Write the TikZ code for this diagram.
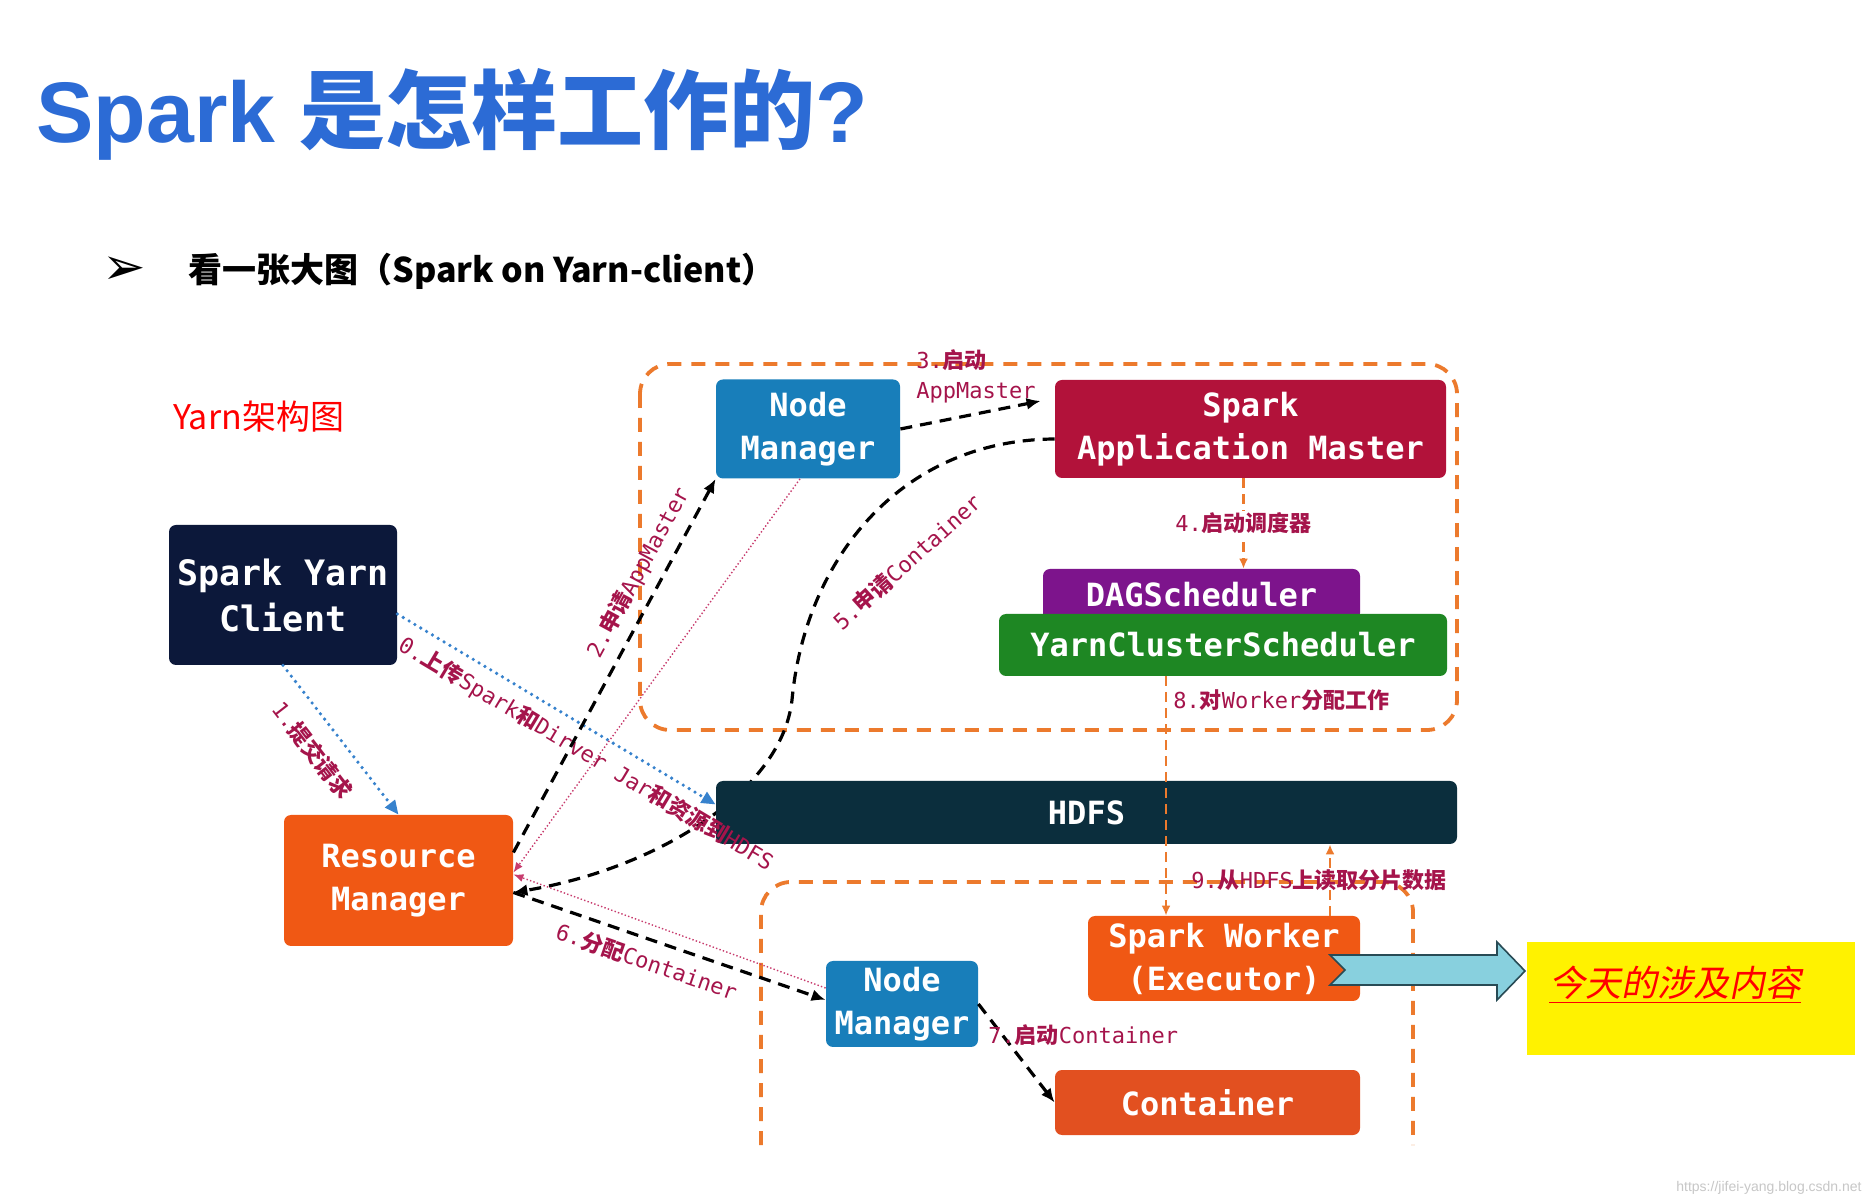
\documentclass[tikz,border=0pt]{standalone}
\usepackage{fontspec}
\usepackage{xcolor}
\usetikzlibrary{calc, arrows.meta, positioning}
\setmainfont{Liberation Sans}
\newfontfamily\cjkfont{Noto Sans CJK SC}
\newfontfamily\cjkslant{Noto Sans CJK SC}[FakeSlant=0.2]
\newfontfamily\monofont{DejaVu Sans Mono}
\newfontfamily\symfont{DejaVu Sans}
\newcommand{\zh}[1]{{\cjkfont\bfseries #1}}

\definecolor{titleblue}{RGB}{44,107,213}
\definecolor{nmblue}{RGB}{24,126,186}
\definecolor{amred}{RGB}{178,18,58}
\definecolor{dagpurple}{RGB}{125,20,140}
\definecolor{ycsgreen}{RGB}{30,135,35}
\definecolor{clientnavy}{RGB}{12,24,58}
\definecolor{rmorange}{RGB}{240,88,20}
\definecolor{contorange}{RGB}{226,80,32}
\definecolor{hdfsteal}{RGB}{11,46,61}
\definecolor{lblred}{RGB}{165,20,75}
\definecolor{hbpink}{RGB}{200,60,110}
\definecolor{dotblue}{RGB}{55,130,205}
\definecolor{frameorange}{RGB}{236,122,45}
\definecolor{calloutblue}{RGB}{136,208,222}
\definecolor{calloutedge}{RGB}{40,75,85}

\tikzset{
  box/.style={rounded corners=3.5pt, text=white, align=center, inner sep=0pt,
    font={\monofont\bfseries\fontsize{16}{21.5}\selectfont}},
  lbl/.style={text=lblred, inner sep=2pt, font={\monofont\fontsize{11}{15}\selectfont}},
  blackdash/.style={draw=black, line width=1.6pt, dash pattern=on 6pt off 4pt,
    -{Latex[length=7pt,width=6pt]}},
  bluedot/.style={draw=dotblue, line width=1.8pt, line cap=round,
    dash pattern=on 0pt off 3.4pt, -{Triangle[length=7pt,width=6pt]}},
  pinkdot/.style={draw=hbpink, line width=0.7pt, dash pattern=on 0.7pt off 1.1pt,
    -{Latex[length=5pt,width=4pt]}},
  orangedash/.style={draw=frameorange, line width=1.3pt, dash pattern=on 5pt off 3pt,
    -{Latex[length=5pt,width=4.5pt]}},
  groupframe/.style={draw=frameorange, line width=1.9pt, dash pattern=on 7pt off 5pt,
    rounded corners=15pt},
}

\begin{document}
\begin{tikzpicture}[x=0.5pt, y=-0.5pt]
  \fill[white] (0,0) rectangle (1870,1202);
  \useasboundingbox (0,0) rectangle (1870,1202);

  % heading
  \node[anchor=base west, inner sep=0pt, text=titleblue,
    font={\bfseries\fontsize{43}{50}\selectfont}] (title) at (36,143) {Spark \zh{是怎样工作的}?};
  \node[inner sep=0pt, font={\symfont\fontsize{26}{28}\selectfont}] (bullet) at (124,271) {➢};
  \node[anchor=west, inner sep=0pt, font={\cjkfont\bfseries\fontsize{17}{20}\selectfont}]
    (subtitle) at (188,271) {看一张大图（Spark on Yarn-client）};
  \node[anchor=west, inner sep=0pt, text=red, font={\cjkfont\fontsize{17}{20}\selectfont}]
    (yarnarch) at (173,417) {Yarn架构图};

  % dashed groups
  \draw[groupframe] (640,364) rectangle (1457,730);
  \draw[groupframe] (761,1145) -- (761,882) -- (1413,882) -- (1413,1145);

  % boxes
  \node[box, fill=nmblue, minimum width=92pt, minimum height=49.5pt] (nmtop) at (808,429) {Node\\Manager};
  \node[box, fill=amred, minimum width=195.5pt, minimum height=49pt] (am) at (1250.5,429) {Spark\\Application Master};
  \node[box, fill=dagpurple, minimum width=158.5pt, minimum height=25.5pt] (dag) at (1201.5,594.5) {DAGScheduler};
  \node[box, fill=ycsgreen, minimum width=224pt, minimum height=31pt] (ycs) at (1223,645) {YarnClusterScheduler};
  \node[box, fill=clientnavy, minimum width=114pt, minimum height=70pt,
    font={\monofont\bfseries\fontsize{17.5}{23}\selectfont}] (client) at (283,595) {Spark Yarn\\Client};
  \node[box, fill=rmorange, minimum width=114.5pt, minimum height=65.5pt] (rm) at (398.5,880.5) {Resource\\Manager};
  \node[box, fill=nmblue, minimum width=76pt, minimum height=43pt] (nmbot) at (902,1004) {Node\\Manager};
  \node[box, fill=rmorange, minimum width=136pt, minimum height=42.5pt] (worker) at (1224,958.5) {Spark Worker\\(Executor)};
  \node[box, fill=contorange, minimum width=152.5pt, minimum height=32.5pt] (cont) at (1207.5,1102.5) {Container};

  % 5 runs under HDFS
  \draw[blackdash] ([yshift=-5pt]am.west) .. controls (900,440) and (805,560) .. (792,700)
    .. controls (782,790) and (660,868) .. ([yshift=-6pt]rm.east);
  \node[lbl, rotate=42] (lbl5) at (907,562) {5.\zh{申请}Container};

  \node[box, fill=hdfsteal, minimum width=370.5pt, minimum height=31.5pt] (hdfs) at (1086.5,812.5) {HDFS};

  % client side
  \draw[bluedot] ([yshift=-9.5pt]client.east) -- ([yshift=4pt]hdfs.west)
    node[lbl, sloped, below=3pt, pos=0.63] {0.\zh{上传}Spark\zh{和}Dirver Jar\zh{和资源到}HDFS};
  \draw[bluedot] (client.south) -- (rm.north)
    node[lbl, sloped, below=6pt, pos=0.45] {1.\zh{提交请求}};

  % heartbeats
  \draw[pinkdot] ([xshift=-4pt]nmtop.south) -- ([yshift=4pt]rm.east);
  \draw[pinkdot] ([yshift=8pt]nmbot.west) -- ([yshift=3pt]rm.east);

  \draw[blackdash] ([yshift=14pt]rm.east) -- (nmtop.south west)
    node[lbl, sloped, above=3pt, pos=0.72] {2.\zh{申请}AppMaster};
  \draw[blackdash] (nmtop.east) -- ([xshift=-7pt,yshift=14pt]am.west);
  \node[lbl, anchor=west, align=left] (lbl3) at (912,376) {3.\zh{启动}\\AppMaster};
  \draw[orangedash] ([xshift=-3.5pt]am.south) -- ([xshift=-3.5pt]am.south |- dag.north)
    node[lbl, fill=white, inner sep=1pt, midway] {4.\zh{启动调度器}};
  \draw[blackdash] ([yshift=-6pt]rm.east) -- ([yshift=2pt]nmbot.west)
    node[lbl, sloped, below=3pt, pos=0.45] {6.\zh{分配}Container};
  \draw[blackdash] (nmbot.east) -- (cont.west);
  \node[lbl, anchor=west] (lbl7) at (984,1035) {7.\zh{启动}Container};

  \coordinate (c8) at ([xshift=-28.5pt]ycs.south);
  \draw[orangedash] (c8) -- (c8 |- worker.north);
  \node[lbl, anchor=west] (lbl8) at (1169,700) {8.\zh{对}Worker\zh{分配工作}};
  \coordinate (c9) at ([xshift=53pt]worker.north);
  \draw[orangedash] (c9) -- (c9 |- hdfs.south);
  \node[lbl, anchor=west] (lbl9) at (1187,880) {9.\zh{从}HDFS\zh{上读取分片数据}};

  % callout
  \node[fill=yellow, minimum width=164pt, minimum height=56.5pt, inner sep=0pt] (today) at (1691,998.5) {};
  \draw[draw=calloutedge, fill=calloutblue, line width=0.8pt] (1330,955) -- (1497,955) -- (1497,942)
    -- (1525,971) -- (1497,1000) -- (1497,985) -- (1330,985) -- (1345,970) -- cycle;
  \node[text=red, inner sep=0pt, font={\cjkslant\fontsize{18}{20}\selectfont}] (todaytxt) at (1675,985) {\underline{今天的涉及内容}};

  \node[anchor=east, inner sep=0pt, text=black!22, font={\fontsize{7}{8}\selectfont}] (mark) at (1862,1188) {https://jifei-yang.blog.csdn.net};
\end{tikzpicture}
\end{document}
